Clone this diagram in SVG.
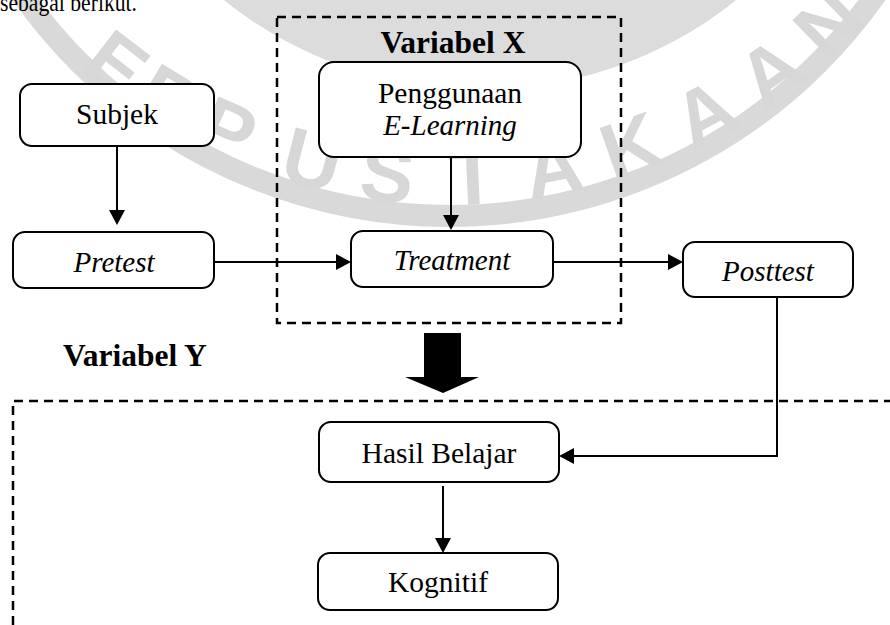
<svg xmlns="http://www.w3.org/2000/svg" width="890" height="625" viewBox="0 0 890 625">
<style>
.box{fill:#fff;stroke:#000;stroke-width:2}
.dash{fill:none;stroke:#000;stroke-width:2.5;stroke-dasharray:9 6}
.con{fill:none;stroke:#000;stroke-width:2}
.t{font-family:"Liberation Serif","Times New Roman",serif;font-size:29.5px;fill:#000;text-anchor:middle}
.i{font-style:italic;font-size:29px}
.b{font-family:"Liberation Serif","Times New Roman",serif;font-weight:bold;font-size:31.5px;fill:#000}
.wm{font-family:"Liberation Sans",Arial,sans-serif;font-weight:bold;font-size:80px;fill:#d7d7d7;text-anchor:middle}
</style>
<defs>
<marker id="ah" markerUnits="userSpaceOnUse" markerWidth="15" markerHeight="16" refX="13" refY="8" orient="auto">
<path d="M0,0 L15,8 L0,16 z" fill="#000"/>
</marker>
</defs>
<rect width="890" height="625" fill="#fff"/>
<g id="watermark">
<circle cx="480" cy="-320" r="410" fill="#dcdcdc"/>
<circle cx="449" cy="-306" r="522" fill="none" stroke="#d9d9d9" stroke-width="22"/>
<g transform="translate(449,-368)">
<text class="wm" transform="rotate(37.6) translate(0,573)">E</text>
<text class="wm" transform="rotate(31) translate(0,573)">R</text>
<text class="wm" transform="rotate(24) translate(0,573)">P</text>
<text class="wm" transform="rotate(14.5) translate(0,573)">U</text>
<text class="wm" transform="rotate(6.5) translate(0,573)">S</text>
<text class="wm" transform="rotate(-2.5) translate(0,573)">T</text>
<text class="wm" transform="rotate(-11) translate(0,573)">A</text>
<text class="wm" transform="rotate(-19.5) translate(0,573)">K</text>
<text class="wm" transform="rotate(-28) translate(0,573)">A</text>
<text class="wm" transform="rotate(-36.2) translate(0,573)">A</text>
<text class="wm" transform="rotate(-44.1) translate(0,573)">N</text>
</g>
</g>
<text class="t" x="0" y="11" style="text-anchor:start;font-size:25px" textLength="137" lengthAdjust="spacingAndGlyphs">sebagai berikut.</text>
<g id="groupX">
<rect class="dash" x="277" y="17" width="344" height="306"/>
<text class="b" x="453" y="53" text-anchor="middle">Variabel X</text>
</g>
<g id="groupY">
<path class="dash" d="M13,625 V401 H890"/>
<text class="b" x="63" y="366">Variabel Y</text>
</g>
<g id="connectors">
<line class="con" x1="117" y1="146" x2="117" y2="223" marker-end="url(#ah)"/>
<line class="con" x1="214" y1="262" x2="349" y2="262" marker-end="url(#ah)"/>
<line class="con" x1="451" y1="157" x2="451" y2="228" marker-end="url(#ah)"/>
<line class="con" x1="553" y1="262" x2="681" y2="262" marker-end="url(#ah)"/>
<path class="con" d="M777,297 V456 H561" marker-end="url(#ah)"/>
<line class="con" x1="443" y1="486" x2="443" y2="551" marker-end="url(#ah)"/>
<polygon points="424,333 461,333 461,377 479,377 443,393 405,377 424,377" fill="#000"/>
</g>
<g id="subjek">
<rect class="box" x="20" y="84" width="194" height="62" rx="12"/>
<text class="t" x="117" y="124">Subjek</text>
</g>
<g id="pretest">
<rect class="box" x="13" y="232" width="201" height="56" rx="12"/>
<text class="t i" x="114" y="272">Pretest</text>
</g>
<g id="penggunaan">
<rect class="box" x="319" y="62" width="262" height="95" rx="15"/>
<text class="t" x="450" y="103">Penggunaan</text>
<text class="t i" x="450" y="135">E-Learning</text>
</g>
<g id="treatment">
<rect class="box" x="351" y="231" width="202" height="56" rx="12"/>
<text class="t i" x="452" y="270">Treatment</text>
</g>
<g id="posttest">
<rect class="box" x="683" y="242" width="170" height="55" rx="12"/>
<text class="t i" x="768" y="281">Posttest</text>
</g>
<g id="hasil">
<rect class="box" x="319" y="422" width="240" height="60" rx="12"/>
<text class="t" x="439" y="463">Hasil Belajar</text>
</g>
<g id="kognitif">
<rect class="box" x="318" y="553" width="240" height="57" rx="12"/>
<text class="t" x="438" y="592">Kognitif</text>
</g>
</svg>
